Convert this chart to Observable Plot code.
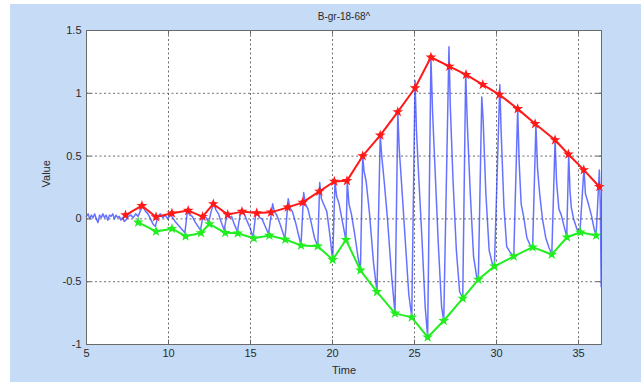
<!DOCTYPE html>
<html>
<head>
<meta charset="utf-8">
<script src="https://cdn.jsdelivr.net/npm/d3@7"></script>
<script src="https://cdn.jsdelivr.net/npm/@observablehq/plot@0.6"></script>
<style>
  html, body { margin: 0; padding: 0; background: #ffffff; }
  #wrap { position: relative; width: 641px; height: 382px; overflow: hidden; }
  #panel { position: absolute; left: 10px; top: 4px; width: 631px; height: 378px; background: #c6dbf5; }
  #chart { position: absolute; left: 0; top: 0; }
</style>
</head>
<body>
<div id="wrap"><div id="panel"></div><div id="chart"></div></div>
<script>
// Labels
const titleText = "B-gr-18-68^";
const xLabel = "Time";
const yLabel = "Value";

// Axis ticks
const xTicks = [5, 10, 15, 20, 25, 30, 35];
const yTicks = [-1, -0.5, 0, 0.5, 1, 1.5];
const xDomain = [5, 36.4];
const yDomain = [-1, 1.5];

// Upper envelope (peak markers): time, value
const upperT = [7.38, 8.38, 9.24, 10.21, 11.2, 12.08, 12.73, 13.61, 14.48, 15.38, 16.25, 17.27, 18.18, 19.2, 20.11,
  20.88, 21.84, 22.91, 23.98, 25.03, 26.0, 27.12, 28.14, 29.16, 30.17, 31.29, 32.35, 33.57, 34.38, 35.32, 36.27];
const upperV = [0.03, 0.105, 0.015, 0.045, 0.066, 0.018, 0.119, 0.034, 0.058, 0.047, 0.052, 0.092, 0.131, 0.219, 0.298,
  0.303, 0.501, 0.665, 0.852, 1.042, 1.287, 1.214, 1.148, 1.069, 0.99, 0.876, 0.757, 0.628, 0.515, 0.39, 0.256];

// Lower envelope (trough markers): time, value
const lowerT = [8.15, 9.24, 10.21, 11.04, 11.98, 12.49, 13.46, 14.22, 15.2, 16.15, 17.12, 18.08, 19.1, 20.01,
  20.82, 21.7, 22.71, 23.81, 24.83, 25.8, 26.78, 27.94, 28.89, 29.87, 31.05, 32.2, 33.37, 34.3, 35.11, 36.07];
const lowerV = [-0.027, -0.1, -0.078, -0.138, -0.112, -0.04, -0.111, -0.114, -0.154, -0.132, -0.164, -0.211, -0.217, -0.325,
  -0.166, -0.409, -0.581, -0.752, -0.784, -0.942, -0.811, -0.633, -0.483, -0.378, -0.298, -0.225, -0.283, -0.146, -0.106, -0.132];

// Measured signal: time, value
const signalT = [5.00, 5.10, 5.20, 5.30, 5.40, 5.50, 5.60, 5.70, 5.80, 5.90, 6.00, 6.10, 6.20, 6.30, 6.40, 6.50, 6.60, 6.70, 6.80, 6.90,
  7.00, 7.10, 7.20, 7.30, 7.40,
  7.55, 7.70, 7.85, 8.00, 8.15, 8.30, 8.45, 8.60, 8.75, 8.90, 9.05, 9.20,
  9.35, 9.50, 9.65, 9.80, 9.95, 10.10, 10.25, 10.40, 10.60, 10.80, 11.00,
  11.15, 11.30, 11.45, 11.60, 11.80, 11.95,
  12.10, 12.30, 12.45, 12.60, 12.75, 12.90, 13.05, 13.20, 13.40,
  13.55, 13.70, 13.85, 14.00, 14.20,
  14.35, 14.50, 14.65, 14.80, 15.00, 15.15,
  15.30, 15.40, 15.55, 15.70, 15.90, 16.10,
  16.35, 16.45, 16.60, 16.80, 17.00, 17.10,
  17.30, 17.40, 17.55, 17.75, 17.95, 18.08,
  18.24, 18.35, 18.50, 18.70, 18.90, 19.10,
  19.22, 19.32, 19.45, 19.65, 19.85, 20.01,
  20.15, 20.25, 20.40, 20.60, 20.82,
  20.90, 21.00, 21.15, 21.35, 21.55, 21.70,
  21.84, 21.92, 22.05, 22.25, 22.50, 22.71,
  22.91, 23.00, 23.15, 23.35, 23.60, 23.81,
  23.98, 24.07, 24.20, 24.40, 24.65, 24.83,
  25.03, 25.12, 25.25, 25.45, 25.65, 25.80,
  26.00, 26.10, 26.25, 26.45, 26.65, 26.78,
  27.10, 27.18, 27.35, 27.55, 27.75, 27.94,
  28.12, 28.22, 28.40, 28.60, 28.80, 28.89,
  29.10, 29.18, 29.35, 29.55, 29.75, 29.87,
  30.20, 30.28, 30.45, 30.62, 30.85, 31.05,
  31.29, 31.38, 31.50, 31.65, 31.85, 32.05, 32.20,
  32.40, 32.50, 32.63, 32.80, 33.00, 33.20, 33.37,
  33.57, 33.66, 33.80, 33.95, 34.10, 34.28,
  34.40, 34.48, 34.56, 34.70, 34.90, 35.08,
  35.33, 35.42, 35.60, 35.80, 35.95, 36.07,
  36.27, 36.33, 36.38];
const signalV = [0.02, 0.04, 0.00, 0.03, 0.01, 0.04, 0.00, -0.03, 0.03, 0.01, 0.04, 0.01, 0.03, -0.01, 0.03, 0.02, 0.04, 0.00, 0.03, 0.01,
  0.02, -0.01, 0.01, -0.02, -0.01,
  0.02, 0.03, 0.01, 0.04, 0.02, 0.07, 0.10, 0.06, 0.04, 0.00, -0.04, -0.06,
  0.02, 0.04, 0.01, 0.03, 0.00, 0.04, 0.01, -0.02, -0.05, -0.08, -0.11,
  0.06, 0.03, 0.02, -0.02, -0.06, -0.09,
  0.02, 0.01, -0.03, 0.06, 0.12, 0.07, 0.04, -0.02, -0.09,
  0.03, 0.01, 0.02, -0.04, -0.10,
  0.02, 0.07, 0.03, -0.02, -0.08, -0.15,
  0.02, 0.06, 0.01, 0.00, -0.06, -0.12,
  0.12, 0.06, 0.03, -0.04, -0.12, -0.16,
  0.16, 0.09, 0.06, -0.03, -0.14, -0.21,
  0.21, 0.12, 0.08, -0.03, -0.15, -0.22,
  0.29, 0.16, 0.12, 0.06, -0.14, -0.33,
  0.30, 0.18, 0.12, -0.02, -0.17,
  0.30, 0.12, 0.04, -0.12, -0.30, -0.41,
  0.50, 0.38, 0.30, 0.05, -0.35, -0.58,
  0.67, 0.50, 0.30, 0.00, -0.45, -0.75,
  0.85, 0.55, 0.30, -0.10, -0.60, -0.78,
  1.10, 0.70, 0.35, -0.15, -0.70, -0.94,
  1.29, 0.85, 0.40, -0.20, -0.70, -0.81,
  1.37, 0.90, 0.30, -0.25, -0.58, -0.63,
  1.17, 0.75, 0.20, -0.30, -0.47, -0.48,
  0.97, 0.80, 0.20, -0.25, -0.36, -0.38,
  1.07, 0.70, 0.10, -0.22, -0.27, -0.30,
  0.88, 0.45, 0.12, 0.02, -0.15, -0.21, -0.23,
  0.75, 0.40, 0.20, 0.00, -0.15, -0.23, -0.28,
  0.63, 0.30, 0.08, 0.03, -0.05, -0.14,
  0.51, 0.22, 0.09, 0.00, -0.08, -0.11,
  0.40, 0.20, 0.12, 0.02, -0.08, -0.13,
  0.39, 0.10, -0.54];

const signal = signalT.map((t, i) => ({t, v: signalV[i]}));
const upper = upperT.map((t, i) => ({t, v: upperV[i]}));
const lower = lowerT.map((t, i) => ({t, v: lowerV[i]}));

const font = "'Liberation Sans', Arial, sans-serif";
const textColor = "#2a2a2a";
const gridColor = "#555555";
const red = "#ff1a1a";
const green = "#22ee22";

const chart = Plot.plot({
  width: 641,
  height: 382,
  marginLeft: 86,
  marginRight: 40,
  marginTop: 30,
  marginBottom: 38,
  style: {background: "transparent", fontFamily: font, fontSize: "11px", color: textColor},
  x: {domain: xDomain},
  y: {domain: yDomain},
  marks: [
    Plot.frame({fill: "white", stroke: null}),
    // dotted grid
    Plot.ruleX(xTicks.filter(d => d > xDomain[0]), {stroke: gridColor, strokeDasharray: "2,2.5", strokeWidth: 1, strokeOpacity: 0.85}),
    Plot.ruleY(yTicks.filter(d => d > yDomain[0] && d < yDomain[1]), {stroke: gridColor, strokeDasharray: "2,2.5", strokeWidth: 1, strokeOpacity: 0.85}),
    // signal
    Plot.line(signal, {x: "t", y: "v", stroke: "#2b3cff", strokeWidth: 1.5, strokeOpacity: 0.72}),
    // envelopes with star-and-circle markers
    Plot.line(upper, {x: "t", y: "v", stroke: red, strokeWidth: 2}),
    Plot.dot(upper, {x: "t", y: "v", r: 3.4, symbol: "star", fill: red}),
    Plot.dot(upper, {x: "t", y: "v", r: 2.4, fill: red}),
    Plot.line(lower, {x: "t", y: "v", stroke: green, strokeWidth: 2}),
    Plot.dot(lower, {x: "t", y: "v", r: 3.4, symbol: "star", fill: green}),
    Plot.dot(lower, {x: "t", y: "v", r: 2.4, fill: green}),
    // inward tick marks on all four sides
    Plot.ruleX(xTicks, {y1: yDomain[0], y2: yDomain[0] + 0.035, stroke: "#666"}),
    Plot.ruleX(xTicks, {y1: yDomain[1], y2: yDomain[1] - 0.035, stroke: "#666"}),
    Plot.ruleY(yTicks, {x1: xDomain[0], x2: xDomain[0] + 0.3, stroke: "#666"}),
    Plot.ruleY(yTicks, {x1: xDomain[1], x2: xDomain[1] - 0.3, stroke: "#666"}),
    Plot.frame({stroke: "#6a6a6a", strokeWidth: 1}),
    Plot.axisX({ticks: xTicks, tickSize: 0, tickPadding: 5, tickFormat: d => String(d), label: null, fill: textColor}),
    Plot.axisY({ticks: yTicks, tickSize: 0, tickPadding: 5, tickFormat: d => String(d), label: null, fill: textColor}),
    Plot.text([titleText], {frameAnchor: "top", dy: -18, text: d => d, fontSize: 10, fill: textColor}),
    Plot.text([xLabel], {frameAnchor: "bottom", dy: 29, text: d => d, fontSize: 11, fill: textColor}),
    Plot.text([yLabel], {frameAnchor: "left", dx: -40, rotate: -90, text: d => d, fontSize: 11, fill: textColor})
  ]
});
document.getElementById("chart").appendChild(chart);
</script>
</body>
</html>
